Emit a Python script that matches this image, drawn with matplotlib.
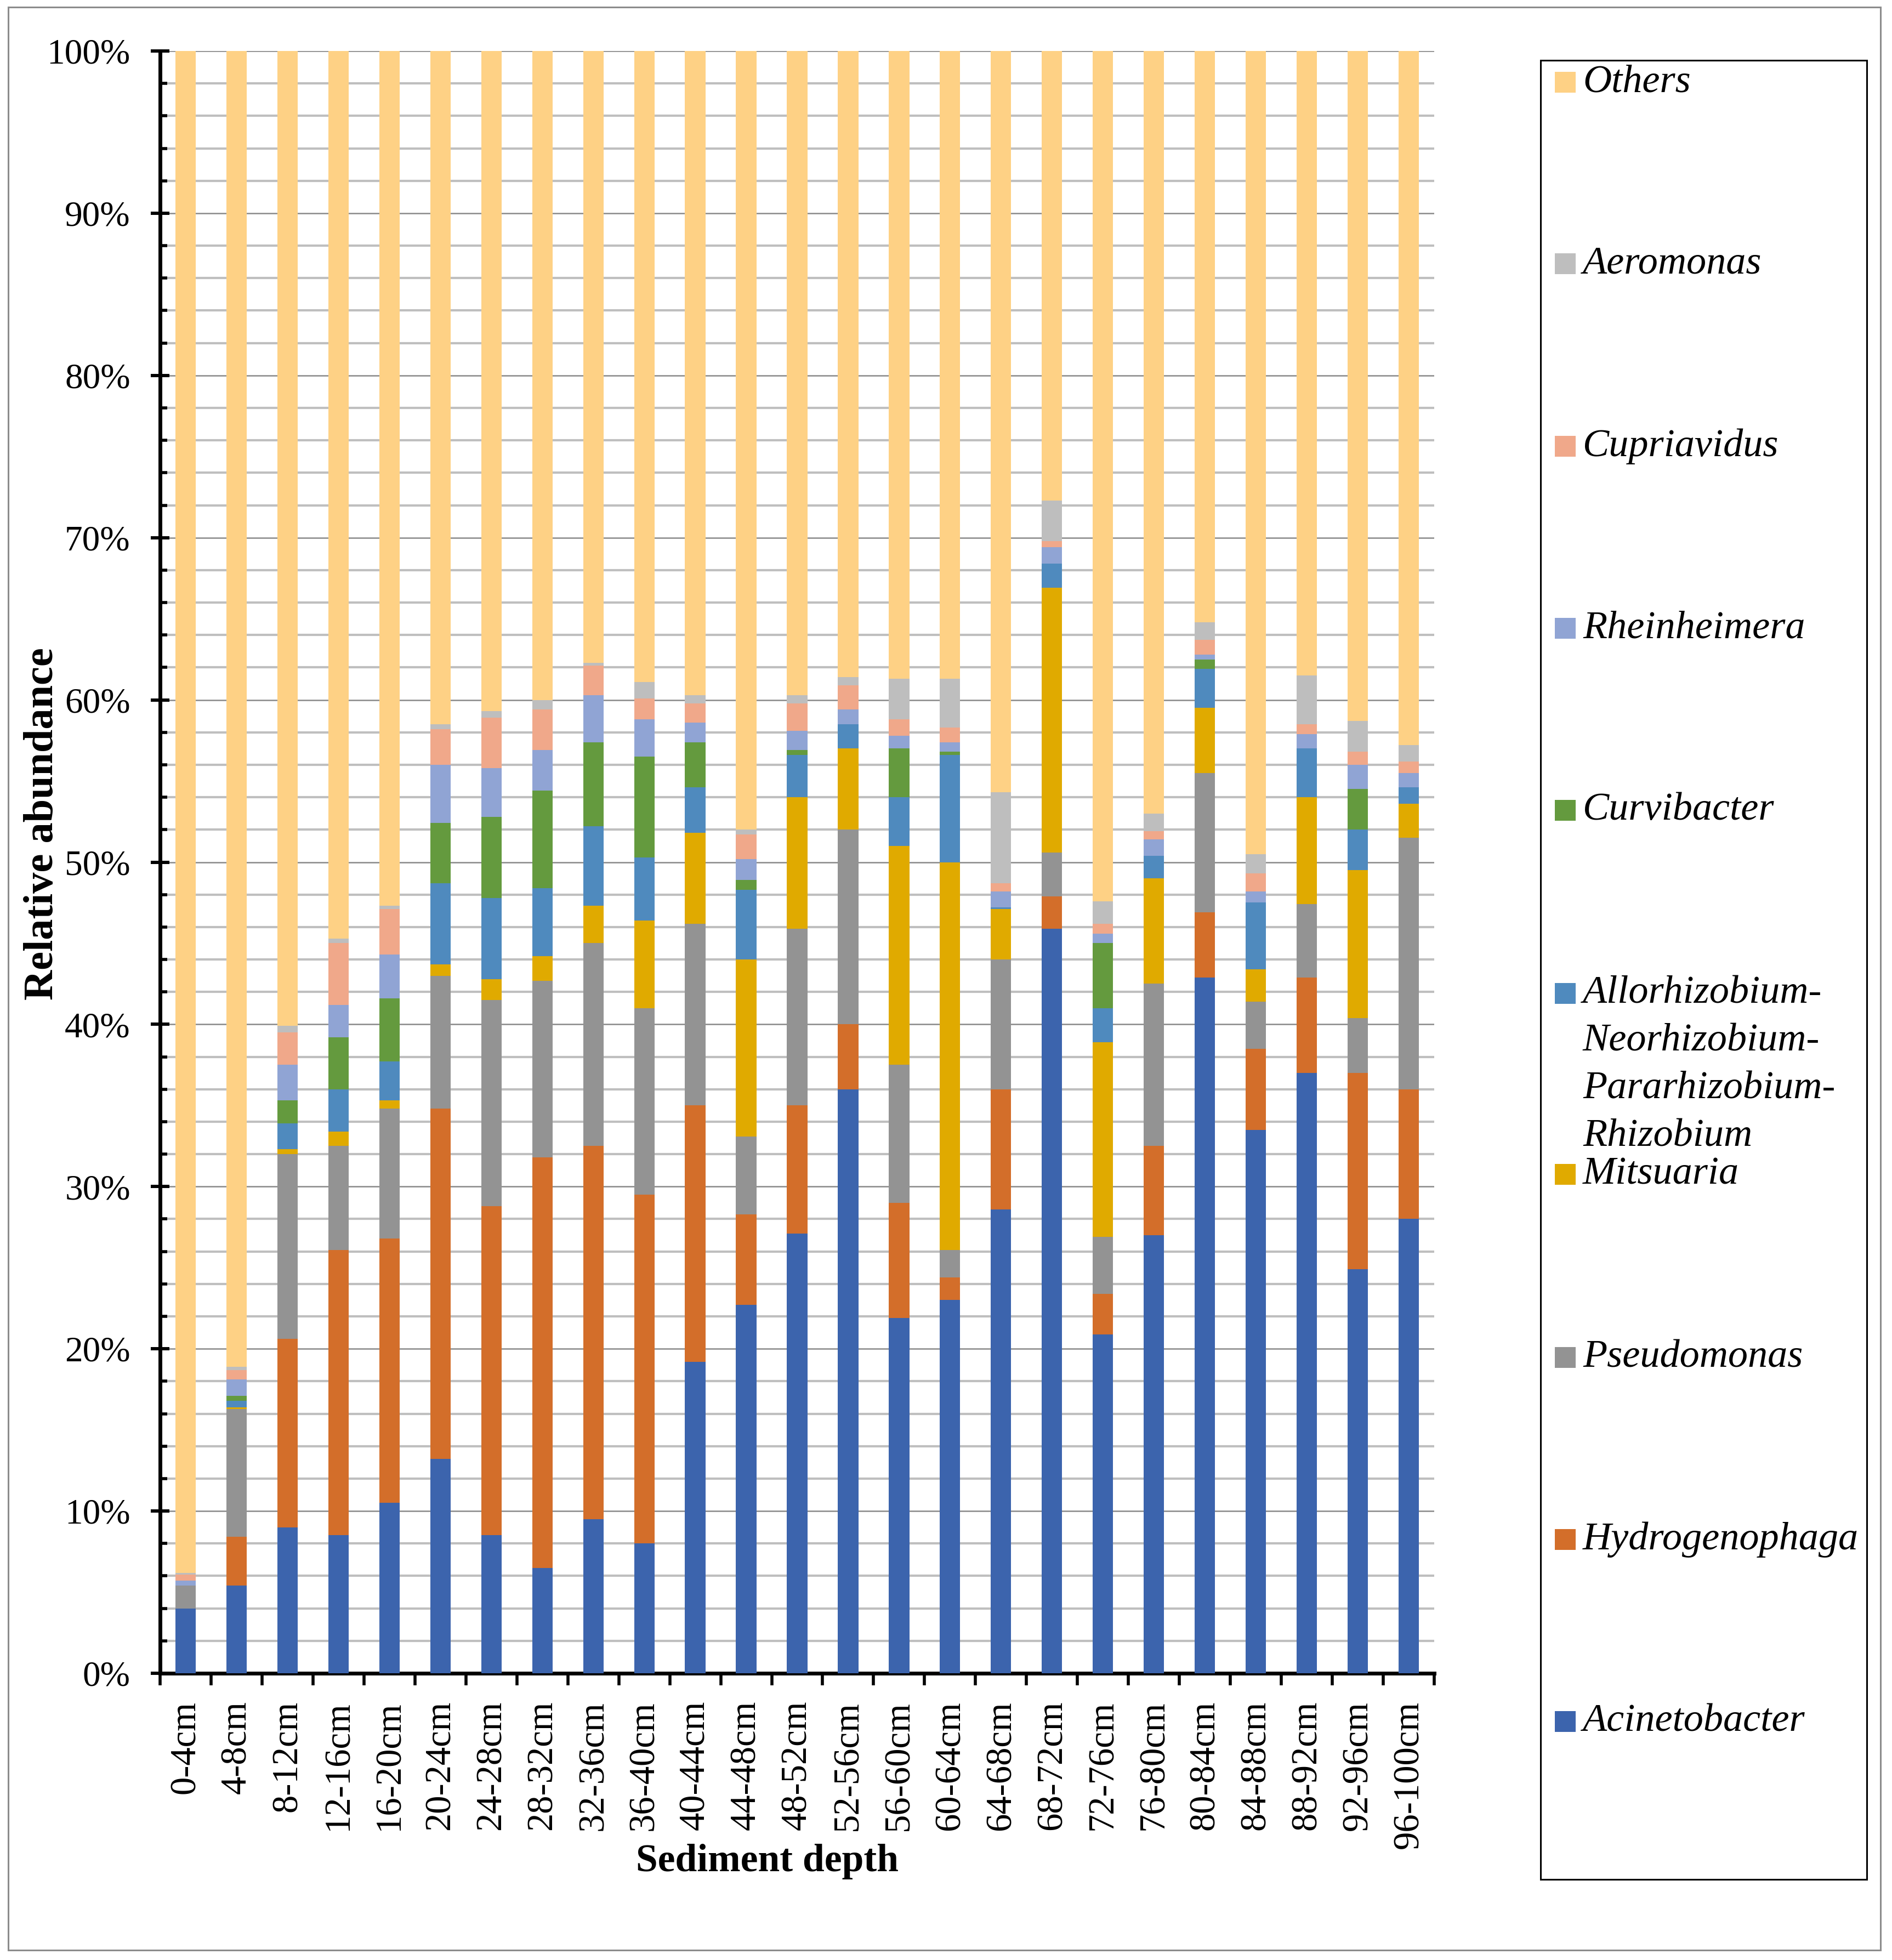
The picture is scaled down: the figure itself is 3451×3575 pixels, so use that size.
import matplotlib
matplotlib.use("Agg")
import matplotlib.pyplot as plt
from matplotlib.patches import Rectangle
from matplotlib.ticker import MultipleLocator, FuncFormatter, FixedLocator
import numpy as np

plt.rcParams["font.family"] = ["Liberation Serif", "DejaVu Serif"]

depths = ["0-4cm", "4-8cm", "8-12cm", "12-16cm", "16-20cm", "20-24cm", "24-28cm",
          "28-32cm", "32-36cm", "36-40cm", "40-44cm", "44-48cm", "48-52cm", "52-56cm",
          "56-60cm", "60-64cm", "64-68cm", "68-72cm", "72-76cm", "76-80cm", "80-84cm",
          "84-88cm", "88-92cm", "92-96cm", "96-100cm"]

acinetobacter = [4.0, 5.4, 9.0, 8.5, 10.5, 13.2, 8.5, 6.5, 9.5, 8.0, 19.2, 22.7, 27.1, 36.0,
                 21.9, 23.0, 28.6, 45.9, 20.9, 27.0, 42.9, 33.5, 37.0, 24.9, 28.0]
hydrogenophaga = [0.0, 3.0, 11.6, 17.6, 16.3, 21.6, 20.3, 25.3, 23.0, 21.5, 15.8, 5.6, 7.9, 4.0,
                  7.1, 1.4, 7.4, 2.0, 2.5, 5.5, 4.0, 5.0, 5.9, 12.1, 8.0]
pseudomonas = [1.4, 7.9, 11.4, 6.4, 8.0, 8.2, 12.7, 10.9, 12.5, 11.5, 11.2, 4.8, 10.9, 12.0,
               8.5, 1.7, 8.0, 2.7, 3.5, 10.0, 8.6, 2.9, 4.5, 3.4, 15.5]
mitsuaria = [0.0, 0.1, 0.3, 0.9, 0.5, 0.7, 1.3, 1.5, 2.3, 5.4, 5.6, 10.9, 8.1, 5.0,
             13.5, 23.9, 3.1, 16.3, 12.0, 6.5, 4.0, 2.0, 6.6, 9.1, 2.1]
allorhizobium = [0.0, 0.4, 1.6, 2.6, 2.4, 5.0, 5.0, 4.2, 4.9, 3.9, 2.8, 4.3, 2.6, 1.5,
                 3.0, 6.6, 0.1, 1.5, 2.1, 1.4, 2.4, 4.1, 3.0, 2.5, 1.0]
curvibacter = [0.0, 0.3, 1.4, 3.2, 3.9, 3.7, 5.0, 6.0, 5.2, 6.2, 2.8, 0.6, 0.3, 0.0,
               3.0, 0.2, 0.0, 0.0, 4.0, 0.0, 0.6, 0.0, 0.0, 2.5, 0.0]
rheinheimera = [0.3, 1.0, 2.2, 2.0, 2.7, 3.6, 3.0, 2.5, 2.9, 2.3, 1.2, 1.3, 1.2, 0.9,
                0.8, 0.6, 1.0, 1.0, 0.6, 1.0, 0.3, 0.7, 0.9, 1.5, 0.9]
cupriavidus = [0.4, 0.6, 2.0, 3.8, 2.8, 2.2, 3.1, 2.5, 1.8, 1.3, 1.2, 1.5, 1.7, 1.5,
               1.0, 0.9, 0.5, 0.4, 0.6, 0.5, 0.9, 1.1, 0.6, 0.8, 0.7]
aeromonas = [0.1, 0.2, 0.4, 0.3, 0.2, 0.3, 0.4, 0.6, 0.2, 1.0, 0.5, 0.3, 0.5, 0.5,
             2.5, 3.0, 5.6, 2.5, 1.4, 1.1, 1.1, 1.2, 3.0, 1.9, 1.0]

genera = ["Acinetobacter", "Hydrogenophaga", "Pseudomonas", "Mitsuaria",
          "Allorhizobium-\nNeorhizobium-\nPararhizobium-\nRhizobium",
          "Curvibacter", "Rheinheimera", "Cupriavidus", "Aeromonas", "Others"]
colors = ["#3C64AD", "#D36E2A", "#939393", "#E0AA00", "#4F8ABE",
          "#649A3E", "#90A4D4", "#F0A88A", "#BEBEBE", "#FED185"]

known = np.array([acinetobacter, hydrogenophaga, pseudomonas, mitsuaria, allorhizobium,
                  curvibacter, rheinheimera, cupriavidus, aeromonas])
others = 100.0 - known.sum(axis=0)
series = list(known) + [others]

W, H = 3451, 3575
fig = plt.figure(figsize=(W / 100, H / 100), dpi=100)

ax_l, ax_r, ax_t, ax_b = 292, 2616, 93, 3052
ax = fig.add_axes([ax_l / W, 1 - ax_b / H, (ax_r - ax_l) / W, (ax_b - ax_t) / H])

x = np.arange(len(depths))
bottom = np.zeros(len(depths))
for vals, col in zip(series, colors):
    vals = np.asarray(vals, dtype=float)
    ax.bar(x, vals, width=0.4, bottom=bottom, color=col, linewidth=0, zorder=3)
    bottom += vals

ax.set_xlim(-0.5, len(depths) - 0.5)
ax.set_ylim(0, 100)

# grid
ax.yaxis.set_major_locator(MultipleLocator(10))
ax.yaxis.set_minor_locator(MultipleLocator(2))
ax.yaxis.set_major_formatter(FuncFormatter(lambda v, p: f"{v:.0f}%"))
ax.grid(which="minor", axis="y", color="#BFBFBF", linewidth=3.0, zorder=0)
ax.grid(which="major", axis="y", color="#898989", linewidth=1.8, zorder=0)
ax.set_axisbelow(True)

for s in ["top", "right"]:
    ax.spines[s].set_visible(False)
for s in ["left", "bottom"]:
    ax.spines[s].set_linewidth(5)
    ax.spines[s].set_color("black")

ax.tick_params(axis="y", which="major", direction="inout", length=24, width=4.3,
               pad=27, labelsize=47)
ax.tick_params(axis="y", which="minor", direction="in", length=9, width=4)

ax.xaxis.set_major_locator(FixedLocator(x))
ax.xaxis.set_minor_locator(FixedLocator(np.arange(-0.5, len(depths), 1.0)))
ax.set_xticklabels(depths, rotation=90)
ax.tick_params(axis="x", which="major", direction="in", length=16, width=4,
               pad=36, labelsize=48)
ax.tick_params(axis="x", which="minor", direction="out", length=16, width=4)

ax.set_ylabel("Relative abundance", fontweight="bold", fontsize=55, va="center")
ax.yaxis.set_label_coords((78 - ax_l) / (ax_r - ax_l), (ax_b - 1503) / (ax_b - ax_t))
ax.set_xlabel("Sediment depth", fontweight="bold", fontsize=51.5, va="center")
ax.xaxis.set_label_coords((1400 - ax_l) / (ax_r - ax_l), (ax_b - 3395) / (ax_b - ax_t))


def fx(px):
    return px / W


def fy(py):
    return 1 - py / H


# legend box (manual, to match reference layout)
fig.patches.append(Rectangle((fx(2810), fy(3428)), fx(3405) - fx(2810), fy(110) - fy(3428),
                             transform=fig.transFigure, fill=False, edgecolor="black",
                             linewidth=2.2, zorder=5))
centers = [3140, 2808, 2476, 2142, 1812, 1478, 1146, 814, 481, 150]
for name, col, cy in zip(genera, colors, centers):
    fig.patches.append(Rectangle((fx(2836), fy(cy + 19)), fx(2874) - fx(2836),
                                 fy(cy - 19) - fy(cy + 19),
                                 transform=fig.transFigure, facecolor=col, edgecolor="none",
                                 zorder=6))
    for i, ln in enumerate(name.split("\n")):
        fig.text(fx(2887), fy(cy + i * 87), ln, fontstyle="italic",
                 fontsize=52, ha="left", va="center")

# outer figure border
fig.patches.append(Rectangle((fx(15), fy(3557)), fx(3430) - fx(15), fy(13) - fy(3557),
                             transform=fig.transFigure, fill=False, edgecolor="#8C8C8C",
                             linewidth=2.2, zorder=1))

fig.savefig("out.png", dpi=100)
